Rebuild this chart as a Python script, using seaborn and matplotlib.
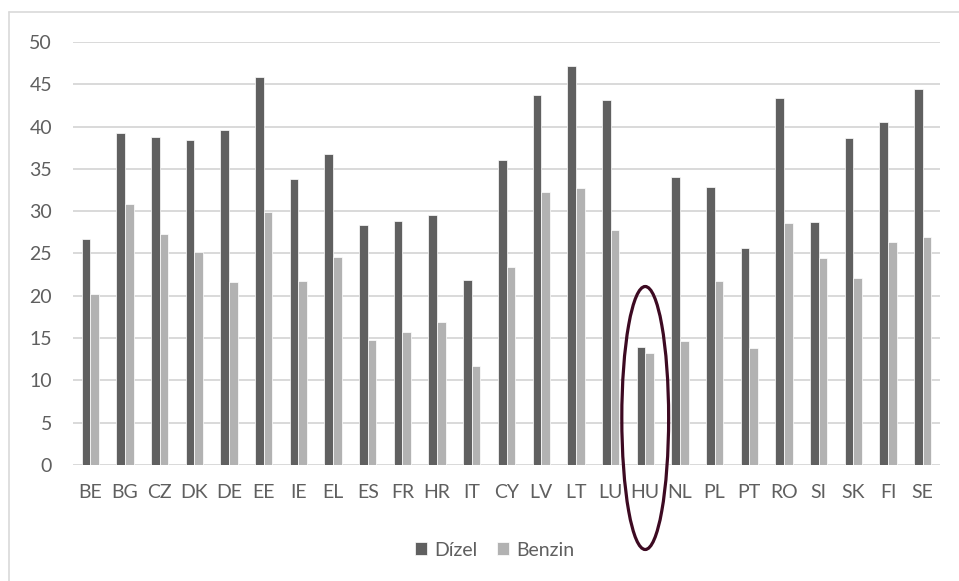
import matplotlib
matplotlib.use("Agg")
import matplotlib.pyplot as plt
import matplotlib.transforms as mtransforms
from matplotlib.lines import Line2D
from matplotlib.patches import Ellipse
import pandas as pd
import seaborn as sns

countries = ["BE", "BG", "CZ", "DK", "DE", "EE", "IE", "EL", "ES", "FR", "HR", "IT", "CY",
             "LV", "LT", "LU", "HU", "NL", "PL", "PT", "RO", "SI", "SK", "FI", "SE"]
dizel = [26.7, 39.3, 38.8, 38.4, 39.6, 45.9, 33.8, 36.8, 28.4, 28.8, 29.6, 21.9, 36.0,
         43.7, 47.2, 43.1, 14.0, 34.0, 32.9, 25.7, 43.4, 28.7, 38.7, 40.6, 44.4]
benzin = [20.2, 30.8, 27.3, 25.2, 21.6, 29.9, 21.7, 24.6, 14.8, 15.7, 16.9, 11.7, 23.4,
          32.3, 32.8, 27.8, 13.2, 14.6, 21.7, 13.8, 28.6, 24.5, 22.1, 26.4, 27.0]
series = ["Dízel", "Benzin"]
highlight = "HU"

TEXT = "#5f5f5f"
GRID = "#d9d9d9"

df = pd.DataFrame({
    "country": countries * 2,
    "value": dizel + benzin,
    "fuel": [series[0]] * len(countries) + [series[1]] * len(countries),
})

sns.set_style("white")
plt.rcParams["font.family"] = ["Lato", "DejaVu Sans"]

fig = plt.figure(figsize=(9.59, 5.81), dpi=100)
ax = fig.add_axes([73 / 959, 1 - 465 / 581, 867 / 959, 423 / 581])

sns.barplot(data=df, x="country", y="value", hue="fuel", order=countries,
            palette=["#606060", "#b2b2b2"], width=0.5, edgecolor="white",
            linewidth=0.5, ax=ax)

ax.set_ylim(0, 50)
ax.set_xlim(-0.5, len(countries) - 0.5)
ax.set_yticks(range(0, 51, 5))
ax.yaxis.grid(True, color=GRID, lw=1.4)
ax.set_axisbelow(True)
for s in ax.spines.values():
    s.set_visible(False)
ax.set_xlabel("")
ax.set_ylabel("")
ax.tick_params(axis="y", length=0, pad=15, labelsize=14, labelcolor=TEXT)
ax.tick_params(axis="x", length=0, pad=14, labelsize=14, labelcolor=TEXT)

handles, labels = ax.get_legend_handles_labels()
ax.get_legend().remove()
fig.legend(handles, labels, loc="center", bbox_to_anchor=(495 / 959, 1 - 550 / 581),
           ncol=2, frameon=False, fontsize=14, labelcolor=TEXT,
           handlelength=0.6, handleheight=0.6, handletextpad=0.4, columnspacing=1.0)

# highlight ellipse around HU
trans = mtransforms.blended_transform_factory(ax.transData, fig.transFigure)
hu = countries.index(highlight)
ax.add_patch(Ellipse((hu, 1 - 418 / 581), width=1.35, height=263 / 581,
                     transform=trans, fill=False, edgecolor="#3d0a22",
                     lw=2.3, clip_on=False, zorder=5))

# chart frame
fig.add_artist(Line2D([9 / 959, 1], [1 - 12 / 581] * 2, color=GRID, lw=1.2))
fig.add_artist(Line2D([9 / 959] * 2, [0, 1 - 12 / 581], color=GRID, lw=1.2))

fig.savefig("out.png", dpi=100)
